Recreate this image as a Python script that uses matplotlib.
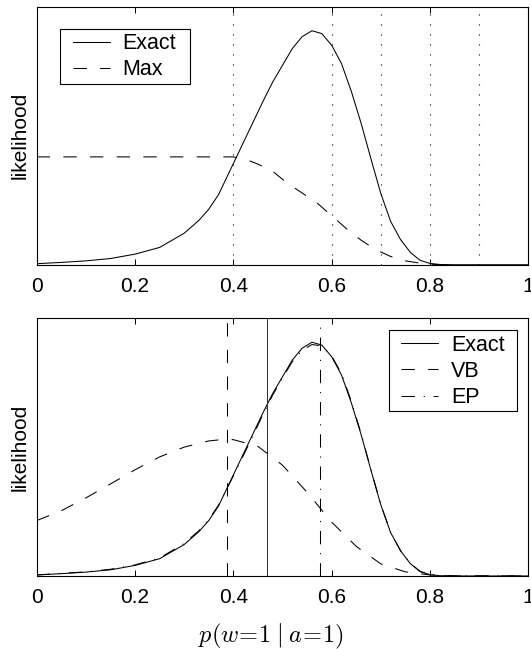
import matplotlib
matplotlib.use("Agg")
import matplotlib.pyplot as plt
from matplotlib.patches import Rectangle

plt.rcParams['font.family'] = ['Liberation Sans', 'DejaVu Sans']
plt.rcParams['mathtext.fontset'] = 'cm'
plt.rcParams['lines.scale_dashes'] = False

# ---------------- data ----------------
x_exact = [0.0, 0.05, 0.10, 0.15, 0.20, 0.25, 0.30, 0.33, 0.35, 0.37, 0.40,
           0.43, 0.46, 0.48, 0.50, 0.52, 0.54, 0.56, 0.58, 0.60, 0.62, 0.64,
           0.66, 0.68, 0.70, 0.72, 0.74, 0.76, 0.78, 0.80, 0.82, 0.85, 0.90, 1.0]
y_exact = [0.004, 0.009, 0.015, 0.024, 0.041, 0.067, 0.122, 0.172, 0.215, 0.272, 0.392,
           0.512, 0.632, 0.708, 0.773, 0.838, 0.884, 0.907, 0.896, 0.851, 0.780, 0.672,
           0.548, 0.410, 0.276, 0.168, 0.098, 0.048, 0.017, 0.005, 0.001, 0.0, 0.0, 0.0]

x_max = [0.0, 0.40, 0.43, 0.45, 0.48, 0.51, 0.54, 0.57, 0.60, 0.63, 0.66, 0.69,
         0.72, 0.75, 0.78, 0.81, 0.85]
y_max = [0.418, 0.418, 0.405, 0.390, 0.362, 0.316, 0.278, 0.240, 0.190, 0.140, 0.095,
         0.058, 0.032, 0.015, 0.006, 0.001, 0.0]

dotted_x = [0.4, 0.6, 0.7, 0.8, 0.9]

x_vb = [0.0, 0.05, 0.10, 0.15, 0.20, 0.25, 0.30, 0.35, 0.38, 0.40, 0.45, 0.50,
        0.55, 0.60, 0.65, 0.70, 0.75, 0.80, 0.85, 1.0]
y_vb = [0.215, 0.253, 0.303, 0.357, 0.412, 0.462, 0.500, 0.524, 0.530, 0.529, 0.503, 0.430,
        0.325, 0.209, 0.115, 0.047, 0.016, 0.004, 0.0, 0.0]

x_ep = [0.0, 0.05, 0.10, 0.15, 0.20, 0.25, 0.30, 0.33, 0.35, 0.37, 0.40,
        0.43, 0.46, 0.48, 0.50, 0.52, 0.54, 0.56, 0.58, 0.60, 0.62, 0.64,
        0.66, 0.68, 0.70, 0.72, 0.74, 0.76, 0.78, 0.80, 0.82, 0.85, 0.90, 1.0]
y_ep = [0.004, 0.010, 0.016, 0.026, 0.043, 0.070, 0.126, 0.176, 0.219, 0.275, 0.388,
        0.505, 0.625, 0.702, 0.768, 0.832, 0.876, 0.898, 0.893, 0.854, 0.786, 0.678,
        0.552, 0.412, 0.277, 0.169, 0.099, 0.049, 0.018, 0.005, 0.001, 0.0, 0.0, 0.0]

mean_vb = 0.388
mean_exact = 0.468
mean_ep = 0.576

xticks = [0, 0.2, 0.4, 0.6, 0.8, 1.0]
xticklabels = ['0', '0.2', '0.4', '0.6', '0.8', '1']

# ---------------- styling ----------------
DASH = (0, (9.6, 9.6))
DASHDOT = (0, (9.6, 6.4, 0.8, 6.4))
DOT = (0, (0.8, 6.4))
LW = 0.75
FS = 15
LFS = 15.5

fig = plt.figure(figsize=(5.31, 6.49), dpi=100)
ax1 = fig.add_axes([0.0691, 0.5921, 0.9258, 0.3975])
ax2 = fig.add_axes([0.0691, 0.1125, 0.9258, 0.3971])


def style(ax):
    ax.set_xlim(0, 1)
    ax.set_ylim(0, 1)
    ax.set_xticks(xticks)
    ax.set_xticklabels(xticklabels, fontsize=FS)
    ax.set_yticks([])
    ax.tick_params(axis='x', direction='in', top=True, length=4, width=0.7, pad=8.5)
    for s in ax.spines.values():
        s.set_linewidth(0.8)
    ax.set_ylabel('likelihood', fontsize=FS, labelpad=5)


def legend_box(ax, x0, y0, w, h, anchor):
    rect = Rectangle((x0, y0), w, h, transform=ax.transAxes, facecolor='white',
                     edgecolor='k', lw=0.8, zorder=4.5, clip_on=False)
    ax.add_patch(rect)
    leg = ax.legend(loc='upper left', bbox_to_anchor=anchor, borderaxespad=0,
                    fontsize=LFS, handlelength=1.72, handletextpad=0.59,
                    borderpad=0, labelspacing=0.25, frameon=False)
    leg.set_zorder(5)
    return leg


# top panel
for xv in dotted_x:
    ax1.axvline(xv, color='k', lw=0.8, linestyle=DOT)
ax1.plot(x_exact, y_exact, color='k', lw=LW, label='Exact')
ax1.plot(x_max, y_max, color='k', lw=LW, linestyle=DASH, label='Max')
style(ax1)
legend_box(ax1, 0.048, 0.700, 0.263, 0.214, (0.0734, 0.898))

# bottom panel
ax2.plot(x_exact, y_exact, color='k', lw=LW, label='Exact')
ax2.plot(x_vb, y_vb, color='k', lw=LW, linestyle=DASH, label='VB')
ax2.plot(x_ep, y_ep, color='k', lw=LW, linestyle=DASHDOT, label='EP')
ax2.axvline(mean_vb, color='k', lw=LW, linestyle=DASH)
ax2.axvline(mean_exact, color='#333333', lw=LW)
ax2.axvline(mean_ep, color='k', lw=LW, linestyle=DASHDOT)
style(ax2)
legend_box(ax2, 0.7162, 0.6414, 0.2616, 0.314, (0.7417, 0.937))

ax2.set_xlabel(r'$p(w\!=\!1\;|\;a\!=\!1)$', fontsize=17.5)
ax2.xaxis.set_label_coords(0.4766, -0.178)
ax2.xaxis.label.set_va('top')

fig.savefig('out.png', dpi=100)
